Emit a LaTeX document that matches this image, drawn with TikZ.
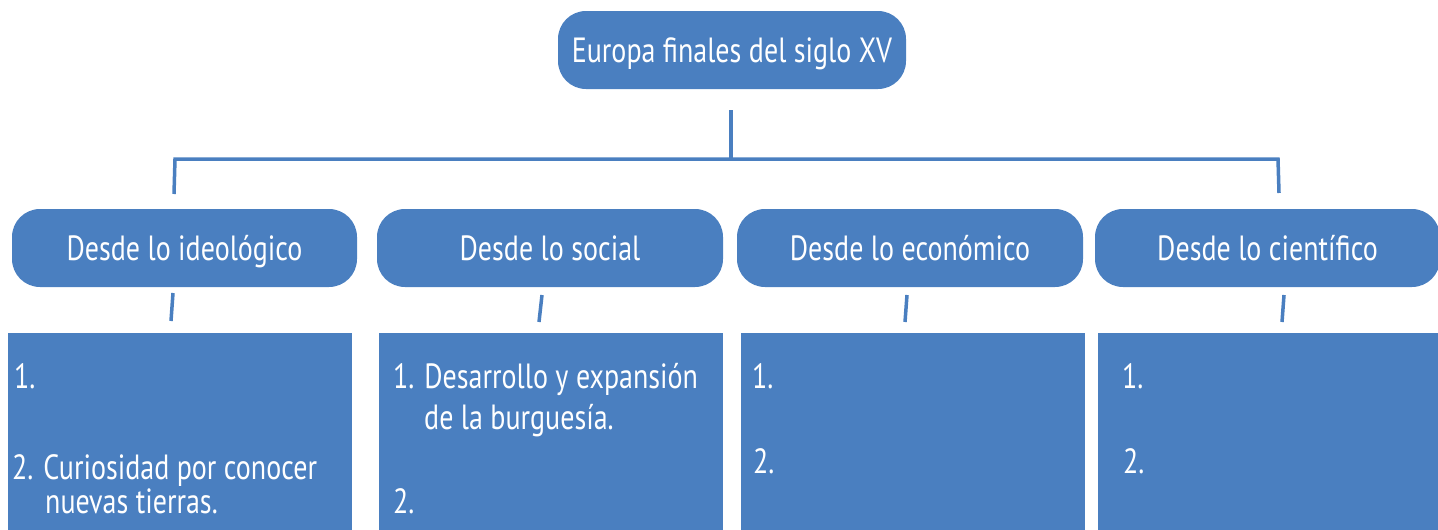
\documentclass[tikz,border=0pt]{standalone}
\usepackage{fontspec}
\setmainfont[FakeStretch=0.8]{PT Sans}
\definecolor{boxblue}{RGB}{74,127,192}
\begin{document}
\begin{tikzpicture}[x=1pt,y=-1pt,
  txt/.style={text=white,font=\fontsize{35}{40}\selectfont},
  pill/.style={txt,rounded corners=28pt,fill=boxblue,draw=none,minimum height=78pt,
    text height=25pt,text depth=0pt,inner sep=0pt},
  panel/.style={fill=boxblue,draw=none,inner sep=0pt,minimum height=200pt},
  item/.style={txt,anchor=base west,inner sep=0pt},
  link/.style={draw=boxblue,line width=3.5pt}]
\useasboundingbox (0,0) rectangle (1438,530);
% title
\node[pill,minimum width=348pt] (top) at (732,50) {Europa finales del siglo XV};
% second level
\node[pill,minimum width=345pt] (a) at (184.5,248) {Desde lo ideológico};
\node[pill,minimum width=346pt] (b) at (550,248) {Desde lo social};
\node[pill,minimum width=346pt] (c) at (910,248) {Desde lo económico};
\node[pill,minimum width=345pt] (d) at (1267.5,248) {Desde lo científico};
% panels
\node[panel,minimum width=344pt] (p1) at (180,433) {};
\node[panel,minimum width=344pt] (p2) at (551,433) {};
\node[panel,minimum width=344pt] (p3) at (913,433) {};
\node[panel,minimum width=342pt] (p4) at (1269,433) {};
% panel texts
\node[item] (p1a) at (14,388) {1.};
\node[item] (p1b) at (12,479) {2. Curiosidad por conocer};
\node[item] (p1c) at (45,513) {nuevas tierras.};
\node[item] (p2a) at (393,388) {1. Desarrollo y expansión};
\node[item] (p2b) at (424,429) {de la burguesía.};
\node[item] (p2c) at (393,513) {2.};
\node[item] (p3a) at (752,388) {1.};
\node[item] (p3b) at (753,473) {2.};
\node[item] (p4a) at (1122,388) {1.};
\node[item] (p4b) at (1123,473) {2.};
% tree connectors
\coordinate (t0) at (731,110);
\coordinate (t1) at (731,161);
\coordinate (hl) at (175,159);
\coordinate (hr) at (1278,159);
\coordinate (l0) at (174,194);
\coordinate (r0) at (1279,193);
\draw[link] (t0) -- (t1);
\draw[link] (l0) -- (hl) -- (hr) -- (r0);
% short strokes below second-level boxes
\coordinate (sa0) at (173,293); \coordinate (sa1) at (171,321);
\coordinate (sb0) at (542,295); \coordinate (sb1) at (539,322);
\coordinate (sc0) at (907,295); \coordinate (sc1) at (905,322);
\coordinate (sd0) at (1284,295); \coordinate (sd1) at (1282,322);
\draw[link] (sa0) -- (sa1);
\draw[link] (sb0) -- (sb1);
\draw[link] (sc0) -- (sc1);
\draw[link] (sd0) -- (sd1);
\end{tikzpicture}
\end{document}
